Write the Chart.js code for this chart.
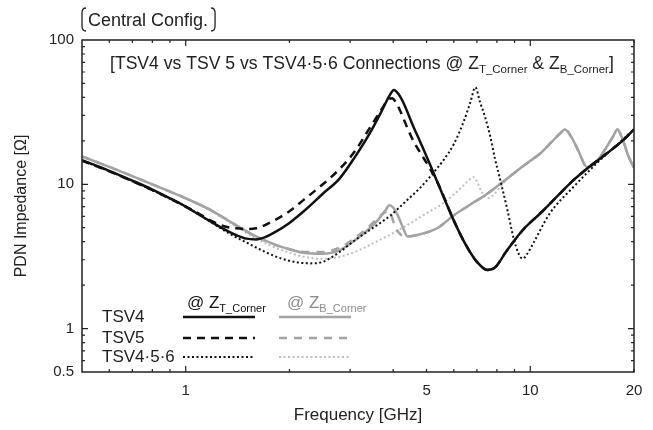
<!DOCTYPE html>
<html>
<head>
<meta charset="utf-8">
<script src="https://cdn.jsdelivr.net/npm/chart.js@4"></script>
<style>
  html, body { margin: 0; padding: 0; background: #fff; }
  canvas { display: block; }
</style>
</head>
<body>
<canvas id="myChart" width="653" height="430"></canvas>
<script>
// TSV4 @ Z_T_Corner (black solid)
const freqT4 = [0.5,0.6,0.7,0.8,0.9,1.0,1.1,1.2,1.3,1.4,1.5,1.6,1.7,1.8,2.0,2.2,2.5,2.8,3.1,3.4,3.7,3.9,4.02,4.15,4.3,4.55,4.8,5.1,5.4,6.0,6.5,7.0,7.5,7.9,8.5,9.5,10.7,12,13.3,15,16.7,18.5,20];
const zT4    = [14.7,12.4,10.6,9.2,8.0,7.0,6.1,5.4,4.85,4.45,4.2,4.15,4.3,4.6,5.4,6.5,8.6,11.0,15.5,22,32,41,45,42,36,26,19.5,14,10.1,5.6,3.8,2.9,2.55,2.65,3.4,4.8,6.3,8.3,10.6,13.5,16.4,20,24];
// TSV5 @ Z_T_Corner (black dashed)
const freqT5 = [0.5,0.6,0.7,0.8,0.9,1.0,1.1,1.2,1.3,1.4,1.5,1.6,1.8,2.0,2.2,2.5,2.8,3.1,3.4,3.7,3.85,3.97,4.1,4.25,4.4,4.6,4.8,5.1,5.4,6.0,6.5,7.0,7.5,7.9,8.5,9.5,10.7,12,13.3,15,16.7,18.5,20];
const zT5    = [14.6,12.3,10.5,9.1,7.95,7.0,6.2,5.5,5.1,4.95,4.9,4.95,5.6,6.5,7.8,10.0,12.8,17,24,33,38,39.5,36,30,24.5,19.5,16.5,13,10.1,5.6,3.8,2.9,2.55,2.65,3.4,4.8,6.3,8.3,10.6,13.5,16.4,20,24];
// TSV4·5·6 @ Z_T_Corner (black dotted)
const freqT456 = [0.5,0.6,0.7,0.8,0.9,1.0,1.1,1.2,1.35,1.5,1.7,1.9,2.1,2.3,2.5,2.8,3.1,3.5,3.9,4.4,4.8,5.2,5.6,6.0,6.4,6.7,6.93,7.15,7.4,7.67,7.9,8.2,8.6,8.93,9.25,9.5,9.8,10.2,11.4,13.3,15.6,17.5,20];
const zT456    = [14.6,12.3,10.5,9.1,7.95,7.0,6.1,5.35,4.5,3.95,3.4,3.05,2.88,2.83,2.9,3.4,4.1,5.0,6.0,7.8,9.5,11.8,14.7,19,27,37,47,37,29,21,15,10.5,6.5,4.3,3.3,3.05,3.3,3.9,6.3,9.5,14,18,24];
// TSV4 @ Z_B_Corner (gray solid)
const freqB4 = [0.5,0.6,0.7,0.8,0.9,1.0,1.2,1.4,1.6,1.8,2.0,2.2,2.5,2.8,3.1,3.4,3.6,3.8,3.9,4.0,4.15,4.3,4.4,4.7,5.4,6.0,6.8,7.5,8.5,9.5,10.7,11.5,12.2,12.6,13.2,13.8,14.6,15.5,16.5,17.4,17.9,18.6,19.3,20];
const zB4    = [15.6,13.2,11.4,10.0,8.9,8.0,6.5,5.2,4.35,3.85,3.55,3.35,3.3,3.5,4.1,4.9,5.6,6.6,7.15,6.9,5.9,4.8,4.35,4.45,5.0,6.1,7.4,8.6,10.8,13.3,16.4,19.5,22.5,24,21,17,13.2,14.2,17.5,21.5,24,20,15.5,13];
// TSV5 @ Z_B_Corner (gray dashed)
const freqB5 = [0.5,0.6,0.7,0.8,0.9,1.0,1.2,1.4,1.6,1.8,2.0,2.2,2.5,2.8,3.1,3.4,3.6,3.75,3.85,3.95,4.05,4.2,4.4,4.7,5.4,6.0,6.8,7.5,8.5,9.5,10.7,11.5,12.2,12.6,13.2,13.8,14.6,15.5,16.5,17.4,17.9,18.6,19.3,20];
const zB5    = [15.6,13.2,11.4,10.0,8.9,8.0,6.5,5.2,4.35,3.85,3.55,3.4,3.4,3.65,4.25,5.1,5.8,6.3,6.5,6.1,5.1,4.5,4.35,4.45,5.0,6.1,7.4,8.6,10.8,13.3,16.4,19.5,22.5,24,21,17,13.2,14.2,17.5,21.5,24,20,15.5,13];
// TSV4·5·6 @ Z_B_Corner (light gray dotted)
const freqB456 = [0.5,0.6,0.7,0.8,0.9,1.0,1.15,1.3,1.6,1.9,2.2,2.5,2.8,3.1,3.5,4.0,4.5,5.0,5.5,6.0,6.4,6.7,6.85,7.0,7.2,7.5,7.8,8.2,8.6,9.5,10.7,11.5,12.2,12.6,13.2,13.8,14.6,15.5,16.5,17.4,17.9,18.6,19.3,20];
const zB456    = [15.6,13.2,11.4,10.0,8.9,8.0,6.8,5.7,4.2,3.5,3.15,3.05,3.15,3.4,3.9,4.6,5.4,6.3,7.2,8.5,9.8,10.9,11.2,10.5,9.0,8.0,8.4,9.6,11.0,13.3,16.4,19.5,22.5,24,21,17,13.2,14.2,17.5,21.5,24,20,15.5,13];

const xTicks = [1, 5, 10, 20];
const yTicks = [0.5, 1, 10, 100];
const xMinor = [0.6,0.7,0.8,0.9,2,3,4,5,6,7,8,9,20];
const xMajor = [1, 10];
const yMinor = [0.6,0.7,0.8,0.9,2,3,4,5,6,7,8,9,20,30,40,50,60,70,80,90];
const yMajor = [1, 10];
const seriesNames = ['TSV4', 'TSV5', 'TSV4·5·6'];

const FONT = "'Liberation Sans', Arial, Helvetica, sans-serif";
const BLACK = '#111';
const GRAY = '#a3a3a3';
const LIGHT = '#bdbdbd';

const zip = (xs, ys) => xs.map((x, i) => ({ x: x, y: ys[i] }));

function line(label, xs, ys, color, width, dash) {
    return {
        label: label,
        data: zip(xs, ys),
        borderColor: color,
        borderWidth: width,
        borderDash: dash,
        pointRadius: 0,
        fill: false,
        cubicInterpolationMode: 'monotone'
    };
}

// draws text with subscripts, parts = [[text, isSub], ...]
function richText(ctx, parts, x, y, size, subSize, color) {
    ctx.fillStyle = color;
    ctx.textAlign = 'left';
    ctx.textBaseline = 'alphabetic';
    parts.forEach(([t, sub]) => {
        ctx.font = (sub ? subSize : size) + 'px ' + FONT;
        ctx.fillText(t, x, sub ? y + 4 : y);
        x += ctx.measureText(t).width;
    });
}

const framePlugin = {
    id: 'frame',
    afterDraw(chart) {
        const { ctx, chartArea: a, scales: { x, y } } = chart;
        ctx.save();
        ctx.strokeStyle = '#222';
        ctx.lineWidth = 1.5;
        ctx.strokeRect(a.left, a.top, a.right - a.left, a.bottom - a.top);

        // inward ticks on all four sides
        ctx.lineWidth = 1.2;
        ctx.beginPath();
        const xt = (v, len) => {
            const px = x.getPixelForValue(v);
            ctx.moveTo(px, a.bottom); ctx.lineTo(px, a.bottom - len);
            ctx.moveTo(px, a.top); ctx.lineTo(px, a.top + len);
        };
        const yt = (v, len) => {
            const py = y.getPixelForValue(v);
            ctx.moveTo(a.left, py); ctx.lineTo(a.left + len, py);
            ctx.moveTo(a.right, py); ctx.lineTo(a.right - len, py);
        };
        xMinor.forEach(v => xt(v, 3));
        xMajor.forEach(v => xt(v, 6));
        yMinor.forEach(v => yt(v, 3));
        yMajor.forEach(v => yt(v, 6));
        ctx.stroke();

        // axis titles
        ctx.fillStyle = '#222';
        ctx.font = '17px ' + FONT;
        ctx.textAlign = 'center';
        ctx.textBaseline = 'middle';
        ctx.fillText('Frequency [GHz]', (a.left + a.right) / 2, 415);
        ctx.save();
        ctx.translate(22, (a.top + a.bottom) / 2);
        ctx.rotate(-Math.PI / 2);
        ctx.font = '16px ' + FONT;
        ctx.fillText('PDN Impedance [Ω]', 0, 0);
        ctx.restore();

        // "Central Config." label with brackets
        ctx.font = '18px ' + FONT;
        ctx.textAlign = 'left';
        ctx.textBaseline = 'alphabetic';
        ctx.fillText('Central Config.', 88, 26);
        const w = ctx.measureText('Central Config.').width;
        ctx.lineWidth = 1.3;
        ctx.beginPath();
        ctx.moveTo(86, 8); ctx.quadraticCurveTo(82, 8, 82, 13);
        ctx.lineTo(82, 26); ctx.quadraticCurveTo(82, 31, 86, 31);
        const r = 88 + w + 3;
        ctx.moveTo(r, 8); ctx.quadraticCurveTo(r + 4, 8, r + 4, 13);
        ctx.lineTo(r + 4, 26); ctx.quadraticCurveTo(r + 4, 31, r, 31);
        ctx.stroke();

        // title inside the plot
        richText(ctx, [
            ['[TSV4 vs TSV 5 vs TSV4·5·6 Connections @ Z', false],
            ['T_Corner', true], [' & Z', false], ['B_Corner', true], [']', false]
        ], 110, 69, 17.6, 11.5, '#222');

        // legend
        const ds = chart.data.datasets;
        richText(ctx, [['@ Z', false], ['T_Corner', true]], 187, 308, 17, 11, BLACK);
        richText(ctx, [['@ Z', false], ['B_Corner', true]], 287, 308, 17, 11, '#8c8c8c');
        const rowY = [317, 338, 357];
        seriesNames.forEach((name, i) => {
            ctx.fillStyle = '#222';
            ctx.font = '17px ' + FONT;
            ctx.textAlign = 'left';
            ctx.textBaseline = 'middle';
            ctx.fillText(name, 102, rowY[i]);
            [[ds[i], 183], [ds[i + 3], 279]].forEach(([d, x0]) => {
                ctx.strokeStyle = d.borderColor;
                ctx.lineWidth = d.borderWidth;
                ctx.setLineDash(d.borderDash || []);
                ctx.beginPath();
                ctx.moveTo(x0, rowY[i]);
                ctx.lineTo(x0 + 72, rowY[i]);
                ctx.stroke();
            });
            ctx.setLineDash([]);
        });
        ctx.restore();
    }
};

const tickFont = { family: FONT, size: 15 };

new Chart(document.getElementById('myChart').getContext('2d'), {
    type: 'line',
    data: {
        datasets: [
            line('TSV4 @ Z_T_Corner', freqT4, zT4, BLACK, 2.5, []),
            line('TSV5 @ Z_T_Corner', freqT5, zT5, BLACK, 2.5, [8, 6]),
            line('TSV4·5·6 @ Z_T_Corner', freqT456, zT456, BLACK, 2, [2, 2.5]),
            line('TSV4 @ Z_B_Corner', freqB4, zB4, GRAY, 2.5, []),
            line('TSV5 @ Z_B_Corner', freqB5, zB5, GRAY, 2.5, [8, 7]),
            line('TSV4·5·6 @ Z_B_Corner', freqB456, zB456, LIGHT, 2, [2, 2.5])
        ]
    },
    options: {
        responsive: false,
        animation: false,
        layout: { padding: { top: 40, right: 19, left: 0, bottom: 0 } },
        plugins: {
            legend: { display: false },
            title: { display: false },
            tooltip: { enabled: false }
        },
        scales: {
            x: {
                type: 'logarithmic',
                min: 0.5,
                max: 20,
                afterBuildTicks: s => { s.ticks = xTicks.map(v => ({ value: v })); },
                afterFit: s => { s.height = 58; },
                ticks: { callback: v => String(v), font: tickFont, color: '#222', padding: 10, maxRotation: 0, autoSkip: false },
                grid: { display: false, drawTicks: false },
                border: { display: false }
            },
            y: {
                type: 'logarithmic',
                min: 0.5,
                max: 100,
                afterBuildTicks: s => { s.ticks = yTicks.map(v => ({ value: v })); },
                afterFit: s => { s.width = 82; },
                ticks: { callback: v => String(v), font: tickFont, color: '#222', padding: 8, autoSkip: false },
                grid: { display: false, drawTicks: false },
                border: { display: false }
            }
        }
    },
    plugins: [framePlugin]
});
</script>
</body>
</html>
